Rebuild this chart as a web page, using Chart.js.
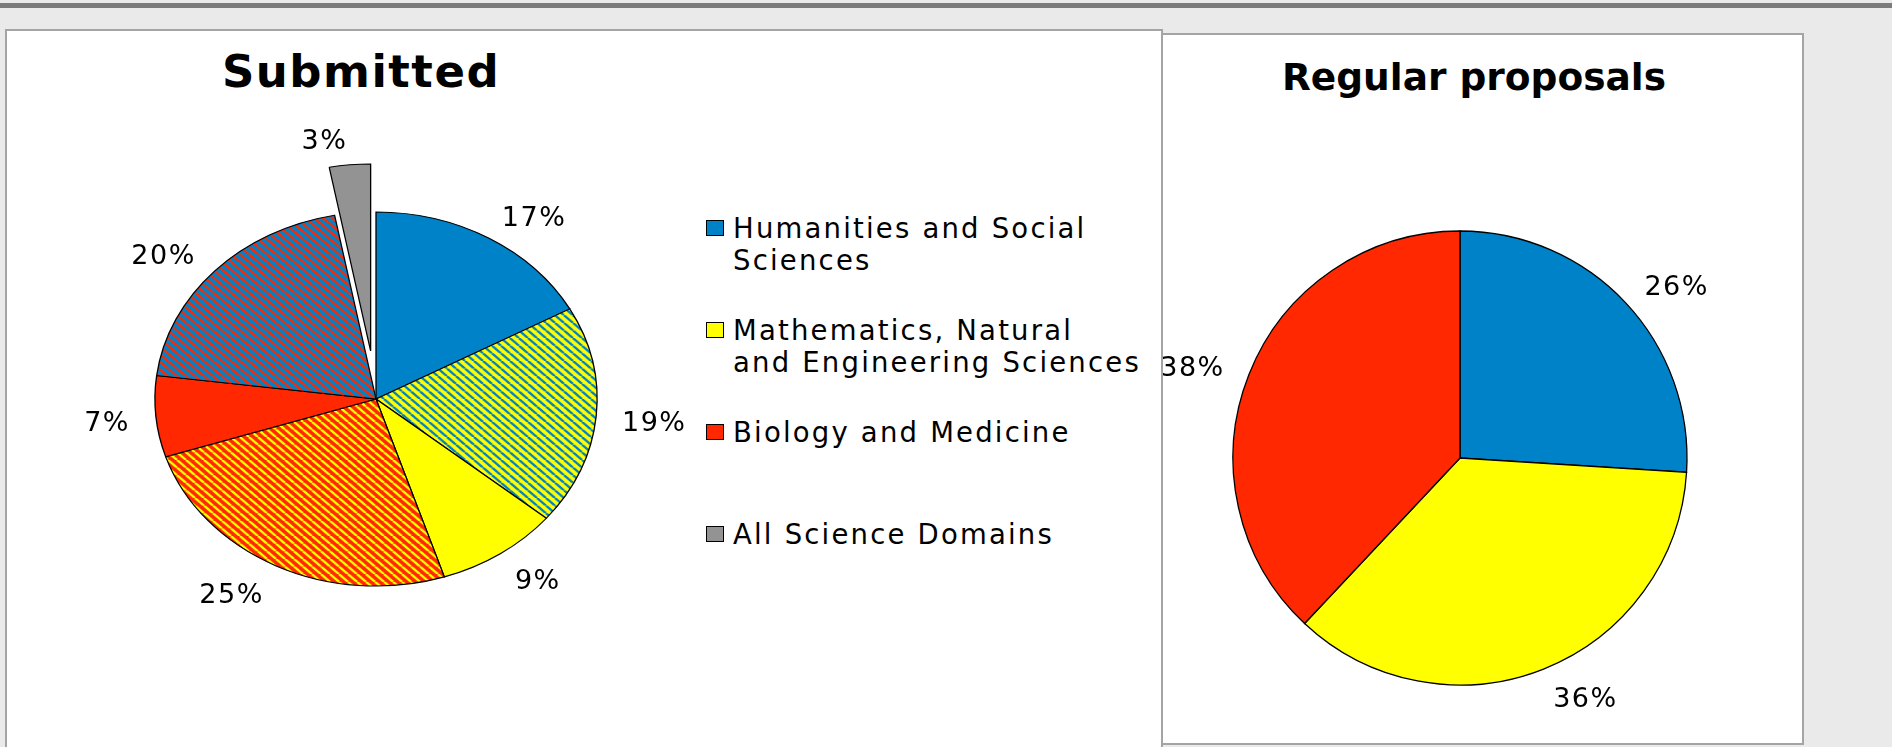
<!DOCTYPE html>
<html>
<head>
<meta charset="utf-8">
<script src="https://cdn.jsdelivr.net/npm/chart.js@4.4.0/dist/chart.umd.min.js"></script>
<style>
  html, body { margin: 0; padding: 0; }
  body {
    width: 1892px; height: 747px; position: relative; overflow: hidden;
    background: #eaeaea; font-family: "DejaVu Sans", Verdana, sans-serif;
  }
  .topbar { position: absolute; left: 0; top: 3px; width: 1892px; height: 5px; background: #7b7b7b; }
  .panel { position: absolute; box-sizing: border-box; background: #fff; border: 2px solid #a4a4a4; overflow: hidden; }
  #leftPanel { left: 5px; top: 29px; width: 1158px; height: 740px; }
  #rightPanel { left: 1161px; top: 33px; width: 643px; height: 712px; }
  .title { position: absolute; font-weight: bold; white-space: nowrap; line-height: 1; font-family: "DejaVu Sans", sans-serif; transform: translateX(-50%); }
  #titleLeft { left: 354px; top: 17.6px; font-size: 45px; letter-spacing: 1.5px; }
  #titleRight { left: 311px; top: 24px; font-size: 37.5px; }
  canvas { position: absolute; }
  #submittedChart { left: 53px; top: 80px; }
  #regularChart { left: 0; top: 125px; }
  .legend-item { position: absolute; left: 699px; }
  .legend-box { position: absolute; left: 0; top: 7px; width: 16px; height: 14px; border: 1.5px solid #000; }
  .legend-text { position: absolute; left: 27px; top: 0; white-space: pre; font-size: 27.5px; line-height: 31.7px; letter-spacing: 2.2px; color: #000; }
</style>
</head>
<body>
<div class="topbar"></div>
<div class="panel" id="leftPanel">
  <div class="title" id="titleLeft">Submitted</div>
  <canvas id="submittedChart" width="632" height="576"></canvas>
  <div id="legend"></div>
</div>
<div class="panel" id="rightPanel">
  <div class="title" id="titleRight">Regular proposals</div>
  <canvas id="regularChart" width="594" height="596"></canvas>
</div>
<script>
// science domains (legend)
const domains = ['Humanities and Social\nSciences', 'Mathematics, Natural\nand Engineering Sciences', 'Biology and Medicine', 'All Science Domains'];
const domainColors = ['#0082c8', '#ffff00', '#ff2800', '#939393'];

// submitted proposals, clockwise from 12 o'clock
const submittedSlices = ['Humanities', 'Humanities / Mathematics', 'Mathematics', 'Mathematics / Biology', 'Biology', 'Biology / Humanities', 'All Science Domains'];
const submittedValues = [17, 19, 9, 25, 7, 20, 3];
// which domain colours fill each slice: [background, stripes]
const submittedDomains = [[0], [1, 0], [1], [2, 1], [2], [0, 2], [3]];

// regular proposals
const regularSlices = ['Humanities and Social Sciences', 'Mathematics, Natural and Engineering Sciences', 'Biology and Medicine'];
const regularValues = [26, 36, 38];

function stripes(bg, fg) {
  const p = 9;
  const c = document.createElement('canvas');
  c.width = p; c.height = p;
  const g = c.getContext('2d');
  g.fillStyle = bg;
  g.fillRect(0, 0, p, p);
  g.strokeStyle = fg;
  g.lineWidth = 2.6;
  g.beginPath();
  for (let k = -1; k <= 1; k++) {
    g.moveTo(k * p, 0);
    g.lineTo(k * p + p, p);
  }
  g.stroke();
  return g.createPattern(c, 'repeat');
}

const submittedFills = submittedDomains.map(d =>
  d.length == 1 ? domainColors[d[0]] : stripes(domainColors[d[0]], domainColors[d[1]]));

// squashes the pie, pulls out slices and writes the % labels
const pieLook = {
  id: 'pieLook',
  beforeDatasetsDraw(chart, args, opts) {
    const a = chart.chartArea;
    const cx = (a.left + a.right) / 2, cy = (a.top + a.bottom) / 2;
    const explode = opts.explode || [];
    chart.getDatasetMeta(0).data.forEach((arc, i) => {
      const d = explode[i] || 0;
      const mid = (arc.startAngle + arc.endAngle) / 2;
      arc.x = cx + d * Math.cos(mid);
      arc.y = cy + d * Math.sin(mid);
    });
    const ctx = chart.ctx;
    ctx.save();
    ctx.translate(cx, cy);
    ctx.scale(1, opts.squash || 1);
    ctx.translate(-cx, -cy);
  },
  afterDatasetsDraw(chart, args, opts) {
    const ctx = chart.ctx;
    ctx.restore();
    const a = chart.chartArea;
    const cy = (a.top + a.bottom) / 2;
    const sy = opts.squash || 1;
    const values = chart.data.datasets[0].data;
    ctx.save();
    ctx.font = opts.font;
    ctx.letterSpacing = opts.letterSpacing;
    ctx.fillStyle = '#000';
    ctx.textBaseline = 'middle';
    chart.getDatasetMeta(0).data.forEach((arc, i) => {
      const mid = (arc.startAngle + arc.endAngle) / 2;
      const c = Math.cos(mid), s = Math.sin(mid);
      const ex = arc.x + arc.outerRadius * c;
      const ey = cy + (arc.y - cy + arc.outerRadius * s) * sy;
      // label box sits just outside the rim, on the side it points to
      ctx.textAlign = c >= 0 ? 'left' : 'right';
      ctx.fillText(values[i] + '%', ex + opts.gapX * c, ey + opts.gapY * s + opts.shiftY);
    });
    ctx.restore();
  }
};

function pieChart(id, labels, values, fills, padding, look) {
  return new Chart(document.getElementById(id), {
    type: 'pie',
    data: {
      labels: labels,
      datasets: [{
        data: values,
        backgroundColor: fills,
        borderColor: '#000',
        borderWidth: 1.3,
        hoverBorderWidth: 1.3,
        hoverOffset: 0,
        borderJoinStyle: 'miter',
        clip: false
      }]
    },
    options: {
      responsive: false,
      animation: false,
      events: [],
      devicePixelRatio: 1,
      layout: { padding: padding },
      plugins: {
        legend: { display: false },
        tooltip: { enabled: false },
        pieLook: look
      }
    },
    plugins: [pieLook]
  });
}

const labelFont = '27px "DejaVu Sans", Verdana, sans-serif';

pieChart('submittedChart', submittedSlices, submittedValues, submittedFills,
  { top: 66.25, bottom: 66.25, left: 0, right: 0 },
  { squash: 0.846, explode: [0, 0, 0, 0, 0, 0, 57], font: labelFont, letterSpacing: '1.5px', gapX: 26, gapY: 28, shiftY: 5 });

pieChart('regularChart', regularSlices, regularValues, domainColors.slice(0, 3),
  { top: 70.35, bottom: 70.35, left: 69.35, right: 69.35 },
  { squash: 1, explode: [], font: labelFont, letterSpacing: '1.5px', gapX: 26, gapY: 28, shiftY: 5 });

// legend
const legend = document.getElementById('legend');
domains.forEach((name, i) => {
  const item = document.createElement('div');
  item.className = 'legend-item';
  item.style.top = (182 + i * 102) + 'px';
  const box = document.createElement('span');
  box.className = 'legend-box';
  box.style.background = domainColors[i];
  const txt = document.createElement('div');
  txt.className = 'legend-text';
  txt.textContent = name;
  item.appendChild(box);
  item.appendChild(txt);
  legend.appendChild(item);
});
</script>
</body>
</html>
